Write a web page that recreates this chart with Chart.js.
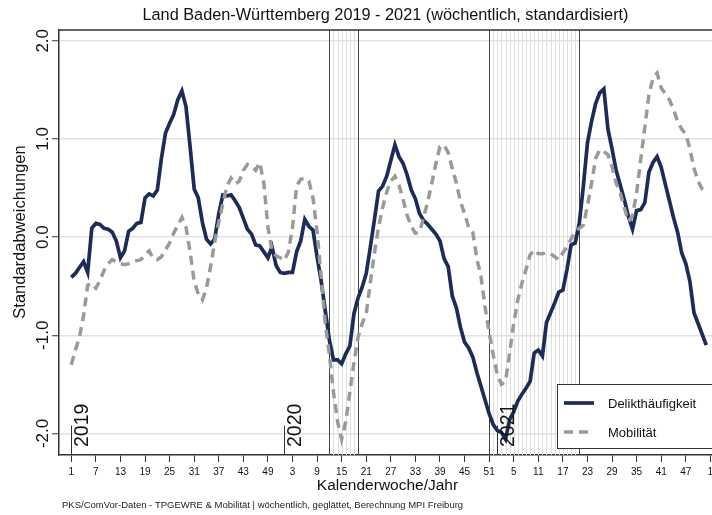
<!DOCTYPE html>
<html>
<head>
<meta charset="utf-8">
<script src="https://cdn.jsdelivr.net/npm/chart.js@4"></script>
<style>
  html, body { margin: 0; padding: 0; background: #fff; }
  #wrap { width: 712px; height: 515px; }
</style>
</head>
<body>
<div id="wrap"><canvas id="chart" width="712" height="515"></canvas></div>
<script>
// weekly series, 2019 w1 .. 2021 w52 (52 weeks per year, index 0 = 2019 w1)
const years = [2019, 2020, 2021];
const weeksPerYear = 52;

const delikt = [
  -0.41, -0.37, -0.31, -0.25, -0.36, 0.09, 0.14, 0.13, 0.09, 0.08, 0.05, -0.04, -0.21,
  -0.14, 0.06, 0.09, 0.14, 0.15, 0.40, 0.44, 0.42, 0.48, 0.80, 1.06, 1.16, 1.25,
  1.40, 1.49, 1.33, 0.92, 0.49, 0.40, 0.15, -0.02, -0.07, -0.02, 0.24, 0.43, 0.42,
  0.43, 0.37, 0.30, 0.19, 0.08, 0.03, -0.08, -0.09, -0.15, -0.21, -0.10, -0.29, -0.36,
  -0.37, -0.36, -0.36, -0.15, -0.04, 0.18, 0.11, 0.07, -0.20, -0.45, -0.75, -1.05, -1.25,
  -1.25, -1.29, -1.19, -1.11, -0.78, -0.62, -0.51, -0.37, -0.10, 0.18, 0.47, 0.52, 0.62,
  0.78, 0.94, 0.82, 0.75, 0.63, 0.48, 0.39, 0.24, 0.17, 0.13, 0.08, 0.03, -0.04,
  -0.22, -0.30, -0.60, -0.72, -0.92, -1.07, -1.13, -1.22, -1.38, -1.52, -1.66, -1.80, -1.91,
  -1.97, -1.99, -2.06, -1.86, -1.78, -1.67, -1.60, -1.54, -1.47, -1.18, -1.15, -1.21, -0.87,
  -0.77, -0.67, -0.56, -0.54, -0.33, -0.08, -0.06, 0.14, 0.52, 0.96, 1.18, 1.36, 1.47,
  1.51, 1.10, 0.90, 0.68, 0.53, 0.38, 0.21, 0.08, 0.27, 0.28, 0.35, 0.66, 0.76,
  0.82, 0.71, 0.54, 0.37, 0.20, 0.05, -0.16, -0.27, -0.45, -0.77, -0.88, -0.99, -1.10
];

const mobil = [
  -1.30, -1.15, -1.02, -0.80, -0.49, -0.47, -0.52, -0.44, -0.34, -0.27, -0.23, -0.25, -0.27,
  -0.28, -0.27, -0.25, -0.24, -0.23, -0.18, -0.14, -0.22, -0.23, -0.20, -0.13, -0.06, 0.04,
  0.12, 0.20, 0.10, -0.15, -0.45, -0.58, -0.64, -0.52, -0.30, -0.05, 0.15, 0.34, 0.52,
  0.60, 0.54, 0.57, 0.68, 0.74, 0.72, 0.68, 0.76, 0.55, 0.10, -0.14, -0.19, -0.21,
  -0.24, -0.15, 0.10, 0.52, 0.59, 0.60, 0.57, 0.40, 0.05, -0.40, -0.88, -1.20, -1.58,
  -1.88, -2.06, -1.88, -1.58, -1.28, -1.02, -0.88, -0.78, -0.46, -0.16, 0.10, 0.30, 0.46,
  0.57, 0.62, 0.53, 0.38, 0.22, 0.11, 0.04, 0.05, 0.20, 0.36, 0.55, 0.75, 0.92,
  0.94, 0.86, 0.70, 0.55, 0.36, 0.24, 0.10, 0.05, -0.22, -0.40, -0.71, -0.97, -1.20,
  -1.40, -1.50, -1.47, -1.18, -0.88, -0.64, -0.47, -0.33, -0.18, -0.13, -0.17, -0.17, -0.16,
  -0.17, -0.20, -0.23, -0.16, -0.10, -0.02, 0.06, 0.09, 0.12, 0.32, 0.55, 0.80, 0.89,
  0.87, 0.84, 0.72, 0.55, 0.45, 0.30, 0.16, 0.22, 0.45, 0.79, 1.12, 1.45, 1.62,
  1.67, 1.52, 1.46, 1.40, 1.30, 1.18, 1.10, 1.05, 0.90, 0.70, 0.57, 0.49, 0.45
];

// lockdown periods [year, week] .. [year, week]
const lockdowns = [
  [[2020, 12], [2020, 19]],
  [[2020, 51], [2021, 21]]
];

const yTicks = [-2, -1, 0, 1, 2];
const xTickStep = 6;

const titleText = "Land Baden-Württemberg 2019 - 2021 (wöchentlich, standardisiert)";
const noteText = "PKS/ComVor-Daten - TPGEWRE & Mobilität | wöchentlich, geglättet, Berechnung MPI Freiburg";
const FONT = "'Liberation Sans', Arial, sans-serif";

const NAVY = "#1d2b58";
const GRAY = "#9a9a9a";

function weekIndex(yw) {
  return (yw[0] - years[0]) * weeksPerYear + yw[1] - 1;
}

function weekLabel(i) {
  return String((i % weeksPerYear) + 1);
}

const toPoints = (arr) => arr.map((v, i) => ({ x: i, y: v }));

function drawLine(ctx, x1, y1, x2, y2) {
  ctx.beginPath();
  ctx.moveTo(x1, y1);
  ctx.lineTo(x2, y2);
  ctx.stroke();
}

function rotatedText(ctx, text, x, y, align) {
  ctx.save();
  ctx.translate(x, y);
  ctx.rotate(-Math.PI / 2);
  ctx.textAlign = align;
  ctx.textBaseline = "alphabetic";
  ctx.fillText(text, 0, 0);
  ctx.restore();
}

const decor = {
  id: "decor",
  beforeDatasetsDraw(chart) {
    const { ctx, chartArea: a, scales: { x, y } } = chart;
    ctx.save();
    // lockdown areas: weekly hairlines and boundaries
    lockdowns.forEach(([from, to]) => {
      const i0 = weekIndex(from), i1 = weekIndex(to);
      ctx.strokeStyle = "#dedede";
      ctx.lineWidth = 1;
      for (let i = i0 + 1; i < i1; i++) {
        const px = Math.round(x.getPixelForValue(i)) + 0.5;
        drawLine(ctx, px, a.top, px, a.bottom);
      }
      ctx.strokeStyle = "#444";
      [i0, i1].forEach((i) => {
        const px = Math.round(x.getPixelForValue(i)) + 0.5;
        drawLine(ctx, px, a.top, px, a.bottom);
      });
    });
    // year markers
    ctx.strokeStyle = "#333";
    ctx.lineWidth = 1;
    years.forEach((yr) => {
      const px = Math.round(x.getPixelForValue(weekIndex([yr, 1]))) + 0.5;
      drawLine(ctx, px, y.getPixelForValue(-1.92), px, a.bottom);
    });
    ctx.restore();
  },
  afterDatasetsDraw(chart) {
    const { ctx, chartArea: a, scales: { x } } = chart;
    ctx.save();
    // year labels
    ctx.fillStyle = "#111";
    ctx.font = "19.5px " + FONT;
    years.forEach((yr) => {
      const px = x.getPixelForValue(weekIndex([yr, 1]));
      rotatedText(ctx, String(yr), px + 16.5, 447, "left");
    });
    // legend
    const lx = 557, ly = 384, lw = 160, lh = 64;
    ctx.fillStyle = "#fff";
    ctx.fillRect(lx, ly, lw, lh);
    ctx.strokeStyle = "#333";
    ctx.lineWidth = 1;
    ctx.strokeRect(lx + 0.5, ly + 0.5, lw, lh);
    const ds = chart.data.datasets;
    [[ds[0], 403], [ds[1], 432]].forEach(([d, yy]) => {
      ctx.strokeStyle = d.borderColor;
      ctx.lineWidth = d.borderWidth;
      ctx.setLineDash(d.borderDash || []);
      drawLine(ctx, 564, yy, 594, yy);
      ctx.setLineDash([]);
      ctx.fillStyle = "#111";
      ctx.font = "13px " + FONT;
      ctx.textAlign = "left";
      ctx.textBaseline = "middle";
      ctx.fillText(d.label, 608, yy + 1);
    });
    // top frame line
    ctx.strokeStyle = "#333";
    ctx.lineWidth = 1.5;
    drawLine(ctx, a.left, a.top, a.right, a.top);
    ctx.restore();
  },
  afterDraw(chart) {
    const { ctx, chartArea: a, scales: { y } } = chart;
    ctx.save();
    ctx.fillStyle = "#111";
    // y tick labels (rotated)
    ctx.font = "17px " + FONT;
    yTicks.forEach((v) => {
      rotatedText(ctx, v.toFixed(1), 47.5, y.getPixelForValue(v), "center");
    });
    // y title
    ctx.font = "16.5px " + FONT;
    rotatedText(ctx, "Standardabweichungen", 25, 232, "center");
    // title
    ctx.textAlign = "center";
    ctx.textBaseline = "middle";
    ctx.font = "16.3px " + FONT;
    ctx.fillText(titleText, (a.left + a.right) / 2, 16);
    // x title
    ctx.font = "15.5px " + FONT;
    ctx.fillText("Kalenderwoche/Jahr", (a.left + a.right) / 2 + 2, 486);
    // footnote
    ctx.textAlign = "left";
    ctx.font = "9.5px " + FONT;
    ctx.fillStyle = "#222";
    ctx.fillText(noteText, 62, 505);
    ctx.restore();
  }
};

new Chart(document.getElementById("chart"), {
  type: "line",
  data: {
    datasets: [
      {
        label: "Delikthäufigkeit",
        data: toPoints(delikt),
        borderColor: NAVY,
        borderWidth: 3.7,
        pointRadius: 0,
        tension: 0,
        order: 1,
      },
      {
        label: "Mobilität",
        data: toPoints(mobil),
        borderColor: GRAY,
        borderWidth: 3.5,
        borderDash: [9, 6],
        pointRadius: 0,
        tension: 0,
        order: 0,
      },
    ],
  },
  options: {
    responsive: false,
    animation: false,
    devicePixelRatio: 1,
    layout: { padding: { top: 30, right: 0, left: 0, bottom: 0 } },
    plugins: { legend: { display: false }, title: { display: false }, tooltip: { enabled: false } },
    scales: {
      x: {
        type: "linear",
        min: -3,
        max: 156.4,
        afterBuildTicks: (s) => {
          const t = [];
          for (let i = 0; i <= years.length * weeksPerYear; i += xTickStep) t.push({ value: i });
          s.ticks = t;
        },
        afterFit: (s) => { s.height = 60; s.paddingLeft = 0; s.paddingRight = 0; },
        grid: { drawOnChartArea: false, drawTicks: true, tickLength: 7, tickColor: "#333", tickWidth: 1 },
        border: { display: true, color: "#333", width: 1.5 },
        ticks: {
          autoSkip: false,
          maxRotation: 0,
          padding: 4,
          color: "#111",
          font: { family: FONT, size: 10 },
          callback: (v) => weekLabel(v),
        },
      },
      y: {
        min: -2.22,
        max: 2.11,
        afterBuildTicks: (s) => { s.ticks = yTicks.map((v) => ({ value: v })); },
        afterFit: (s) => { s.width = 59; s.paddingTop = 0; s.paddingBottom = 0; },
        grid: { color: "#e2e2e2", lineWidth: 1.5, drawTicks: true, tickLength: 7, tickColor: "#333", tickWidth: 1 },
        border: { display: true, color: "#333", width: 1.5 },
        ticks: { display: false },
      },
    },
  },
  plugins: [decor],
});
</script>
</body>
</html>
